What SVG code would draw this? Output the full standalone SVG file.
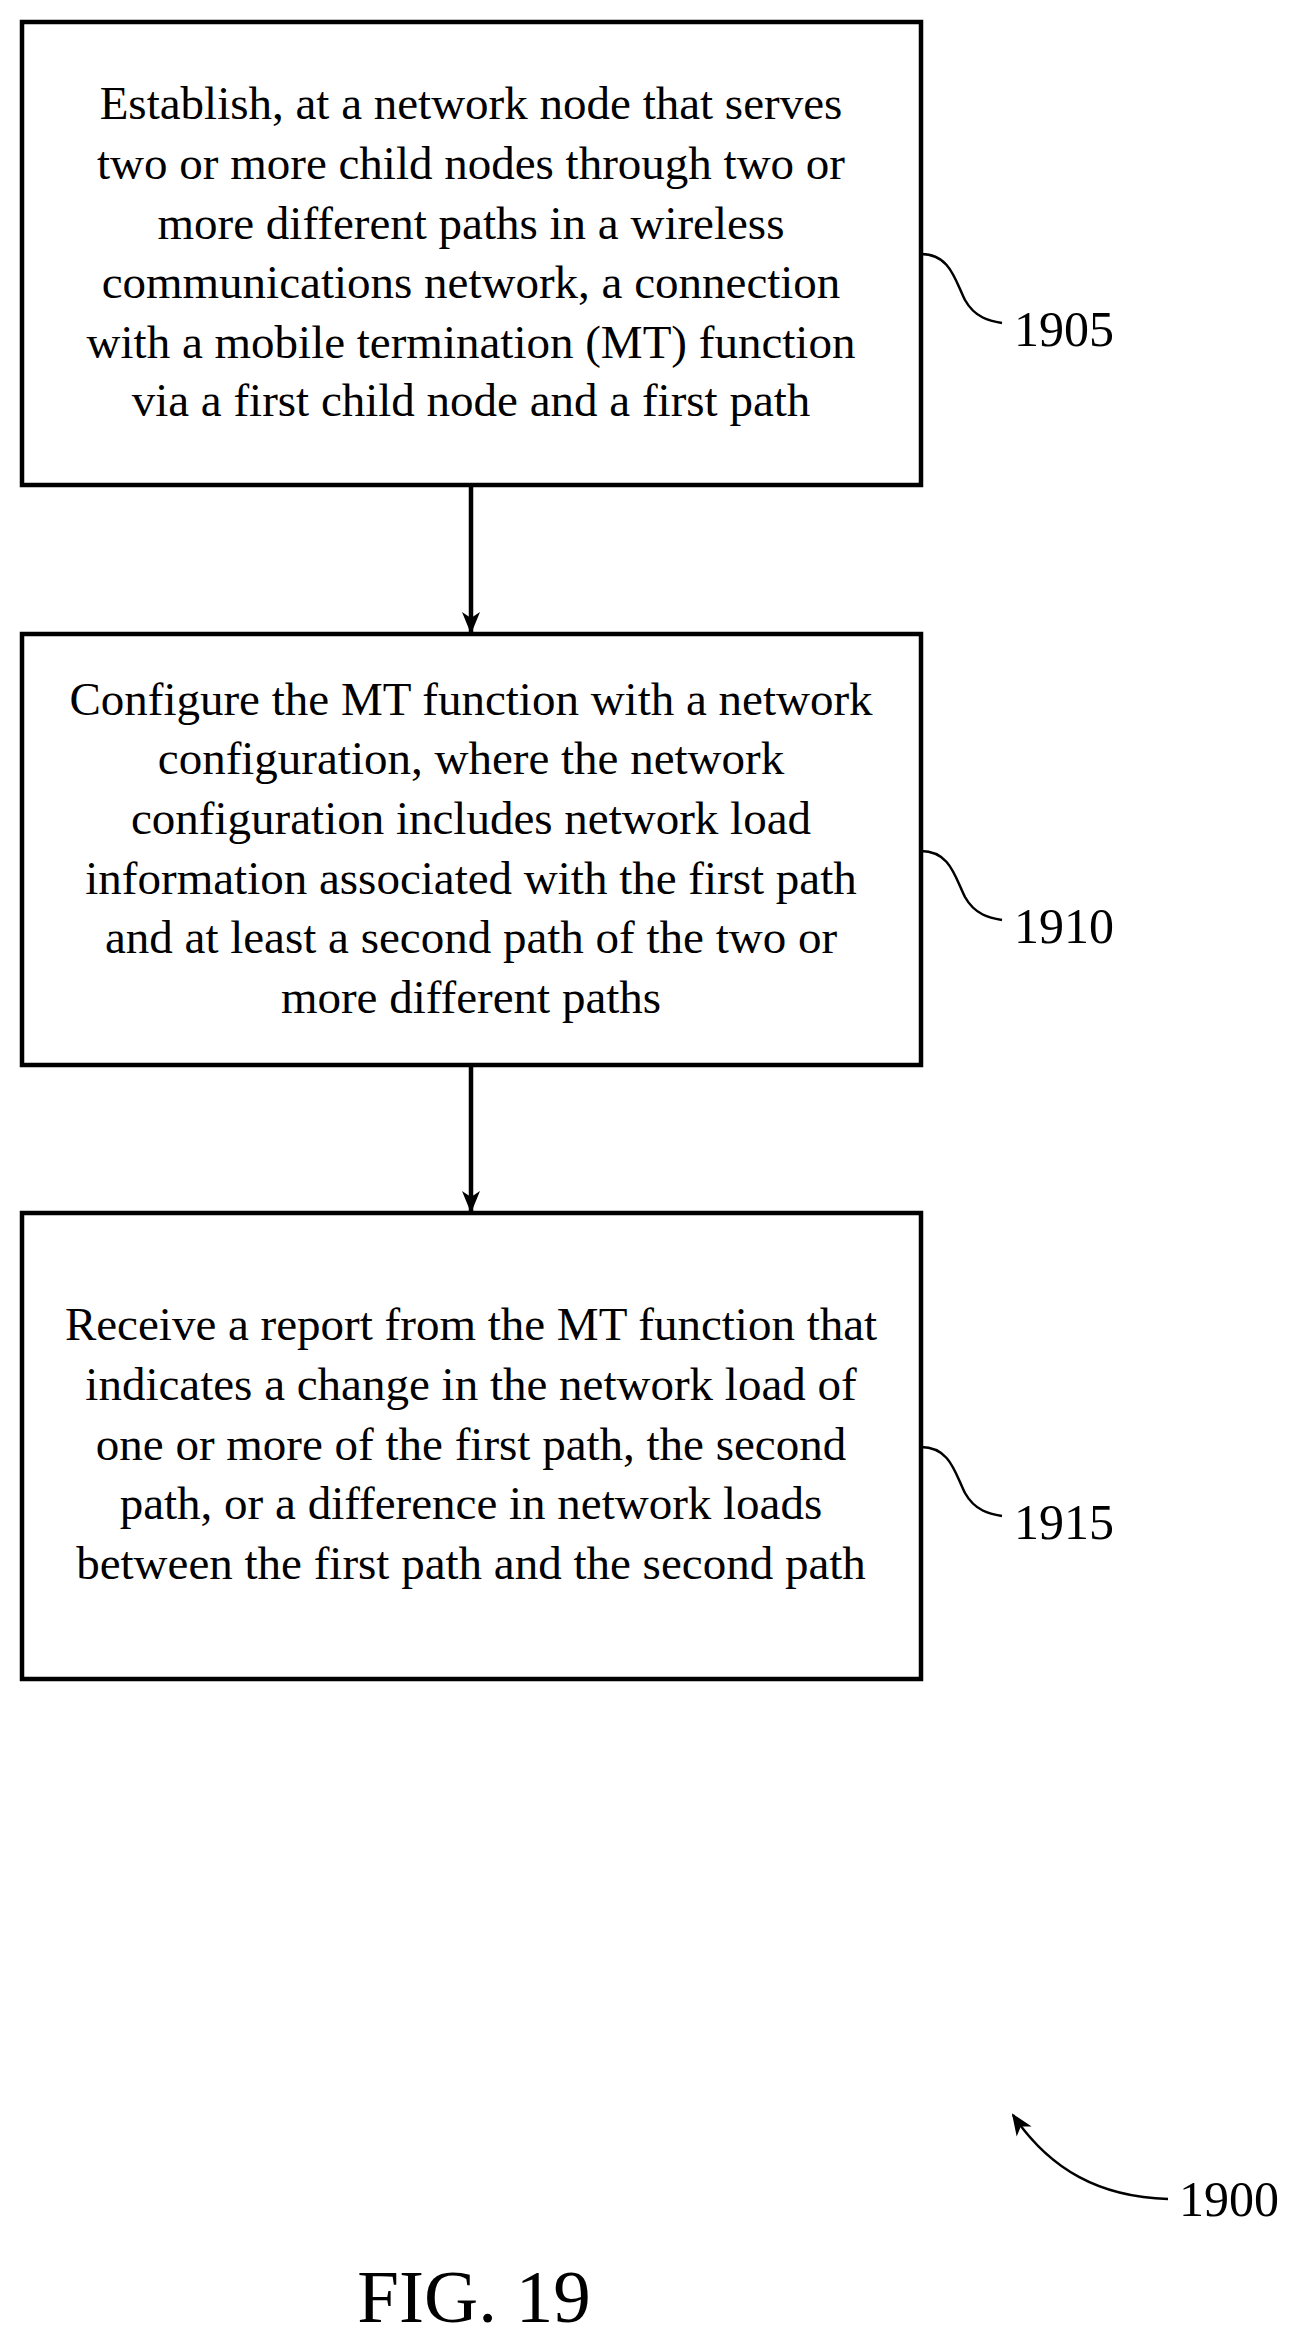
<svg xmlns="http://www.w3.org/2000/svg" width="1313" height="2344" viewBox="0 0 1313 2344">
<style>
.box{fill:#fff;stroke:#000;stroke-width:4.5}
.t{font-family:"Liberation Serif",serif;font-size:47px;text-anchor:middle;fill:#000}
.lbl{font-family:"Liberation Serif",serif;font-size:50px;fill:#000}
.c{fill:none;stroke:#000;stroke-width:4.5}
.s{fill:none;stroke:#000;stroke-width:2.5}
</style>
<defs>
<marker id="ah2" markerWidth="22" markerHeight="22" refX="20" refY="11" orient="auto" markerUnits="userSpaceOnUse" viewBox="0 0 22 22">
<path d="M0,2 L22,11 L0,20 L6,11 Z" fill="#000"/>
</marker>
</defs>
<rect width="1313" height="2344" fill="#fff"/>
<g id="n1905">
<rect class="box" x="22" y="22" width="899" height="463"/>
<text class="t" x="471" y="119">Establish, at a network node that serves</text>
<text class="t" x="471" y="179">two or more child nodes through two or</text>
<text class="t" x="471" y="239">more different paths in a wireless</text>
<text class="t" x="471" y="298">communications network, a connection</text>
<text class="t" x="471" y="358">with a mobile termination (MT) function</text>
<text class="t" x="471" y="416">via a first child node and a first path</text>
<path class="s" d="M921,254 C950,254 955,280 965,300 C975,318 990,321 1002,323"/>
<text class="lbl" x="1014" y="346">1905</text>
</g>
<g id="n1910">
<rect class="box" x="22" y="634" width="899" height="431"/>
<text class="t" x="471" y="715">Configure the MT function with a network</text>
<text class="t" x="471" y="774">configuration, where the network</text>
<text class="t" x="471" y="834">configuration includes network load</text>
<text class="t" x="471" y="894">information associated with the first path</text>
<text class="t" x="471" y="953">and at least a second path of the two or</text>
<text class="t" x="471" y="1013">more different paths</text>
<path class="s" d="M921,851 C950,851 955,877 965,897 C975,915 990,918 1002,920"/>
<text class="lbl" x="1014" y="943">1910</text>
</g>
<g id="n1915">
<rect class="box" x="22" y="1213" width="899" height="466"/>
<text class="t" x="471" y="1340">Receive a report from the MT function that</text>
<text class="t" x="471" y="1400">indicates a change in the network load of</text>
<text class="t" x="471" y="1460">one or more of the first path, the second</text>
<text class="t" x="471" y="1519">path, or a difference in network loads</text>
<text class="t" x="471" y="1579">between the first path and the second path</text>
<path class="s" d="M921,1447 C950,1447 955,1473 965,1493 C975,1511 990,1514 1002,1516"/>
<text class="lbl" x="1014" y="1539">1915</text>
</g>
<g id="connectors">
<line class="c" x1="471" y1="485" x2="471" y2="632" marker-end="url(#ah2)"/>
<line class="c" x1="471" y1="1065" x2="471" y2="1211" marker-end="url(#ah2)"/>
</g>
<g id="ref1900">
<path class="s" d="M1168,2199 C1100,2197 1050,2170 1013,2115" marker-end="url(#ah2)"/>
<text class="lbl" x="1179" y="2216">1900</text>
</g>
<text x="474" y="2322" style="font-family:'Liberation Serif',serif;font-size:75px;text-anchor:middle">FIG. 19</text>
</svg>
